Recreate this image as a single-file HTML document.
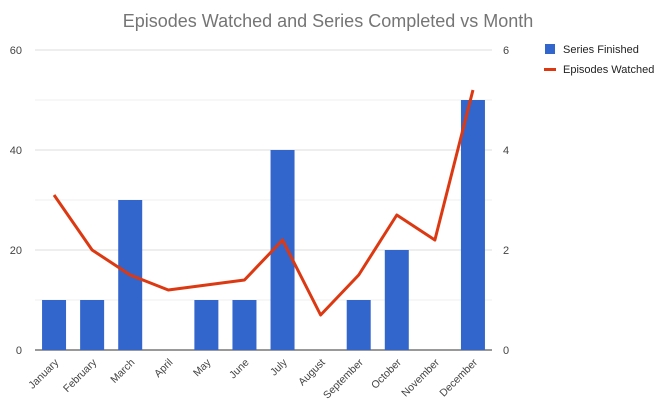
<!DOCTYPE html>
<html><head><meta charset="utf-8"><style>
body{margin:0;background:#fff;font-family:"Liberation Sans",Roboto,sans-serif}
svg text{font-family:"Liberation Sans",sans-serif}
</style></head><body>
<svg id="chart" width="660" height="407" xmlns="http://www.w3.org/2000/svg">
<text x="328" y="27" text-anchor="middle" font-size="18" fill="#757575">Episodes Watched and Series Completed vs Month</text>
<g id="grid"></g><g id="bars"></g><g id="line"></g><g id="axes"></g>
<g>
<rect x="545" y="44" width="10" height="10" fill="#3366cc"/>
<text x="563" y="53" font-size="11" fill="#222">Series Finished</text>
<rect x="544" y="68" width="12" height="3" fill="#dc3912"/>
<text x="563" y="73" font-size="11" fill="#222">Episodes Watched</text>
</g>
</svg>
<script>
const months=["January","February","March","April","May","June","July","August","September","October","November","December"];
const seriesFinished=[1,1,3,0,1,1,4,0,1,2,0,5];
const episodesWatched=[3.1,2.0,1.5,1.2,1.3,1.4,2.2,0.7,1.5,2.7,2.2,5.2];
const leftTicks=[0,20,40,60];
const rightTicks=[0,2,4,6];
const NS="http://www.w3.org/2000/svg";
const x0=35,x1=492,yTop=50,yBot=350;
const yR=v=>yBot-(v/6)*(yBot-yTop);
const yL=v=>yBot-(v/60)*(yBot-yTop);
const step=(x1-x0)/months.length;
const xC=i=>x0+step*(i+0.5);
function mk(t,a,p){const e=document.createElementNS(NS,t);for(const k in a)e.setAttribute(k,a[k]);p.appendChild(e);return e;}
const grid=document.getElementById('grid'),bars=document.getElementById('bars'),line=document.getElementById('line'),axes=document.getElementById('axes');
for(let v=0;v<=60;v+=10){
 const g=mk('line',{x1:x0,x2:x1,y1:yL(v),y2:yL(v),stroke:v===0?'#333':(v%20===0?'#ddd':'#efefef'),'stroke-width':1},grid);
 
 
}
leftTicks.forEach(v=>{
 const t=mk('text',{x:22,y:yL(v)+4,'text-anchor':'end','font-size':11,fill:'#444'},axes);t.textContent=v;
 
 
});
rightTicks.forEach(v=>{
 const t=mk('text',{x:503,y:yR(v)+4,'font-size':11,fill:'#444'},axes);t.textContent=v;
 
 
});
months.forEach((m,i)=>{
 const v=seriesFinished[i];
 if(v>0){
  const r=mk('rect',{x:xC(i)-12,y:yR(v),width:24,height:yBot-yR(v),fill:'#3366cc'},bars);
  
  
 }
 const t=mk('text',{x:0,y:0,'text-anchor':'end','font-size':10.5,fill:'#444',transform:`translate(${xC(i)+5},${yBot+13}) rotate(-45)`},axes);
 t.textContent=m;
 
 
});
const p=mk('polyline',{points:episodesWatched.map((v,i)=>xC(i)+','+yR(v)).join(' '),fill:'none',stroke:'#dc3912','stroke-width':3,'stroke-linejoin':'round'},line);


</script>
</body></html>
